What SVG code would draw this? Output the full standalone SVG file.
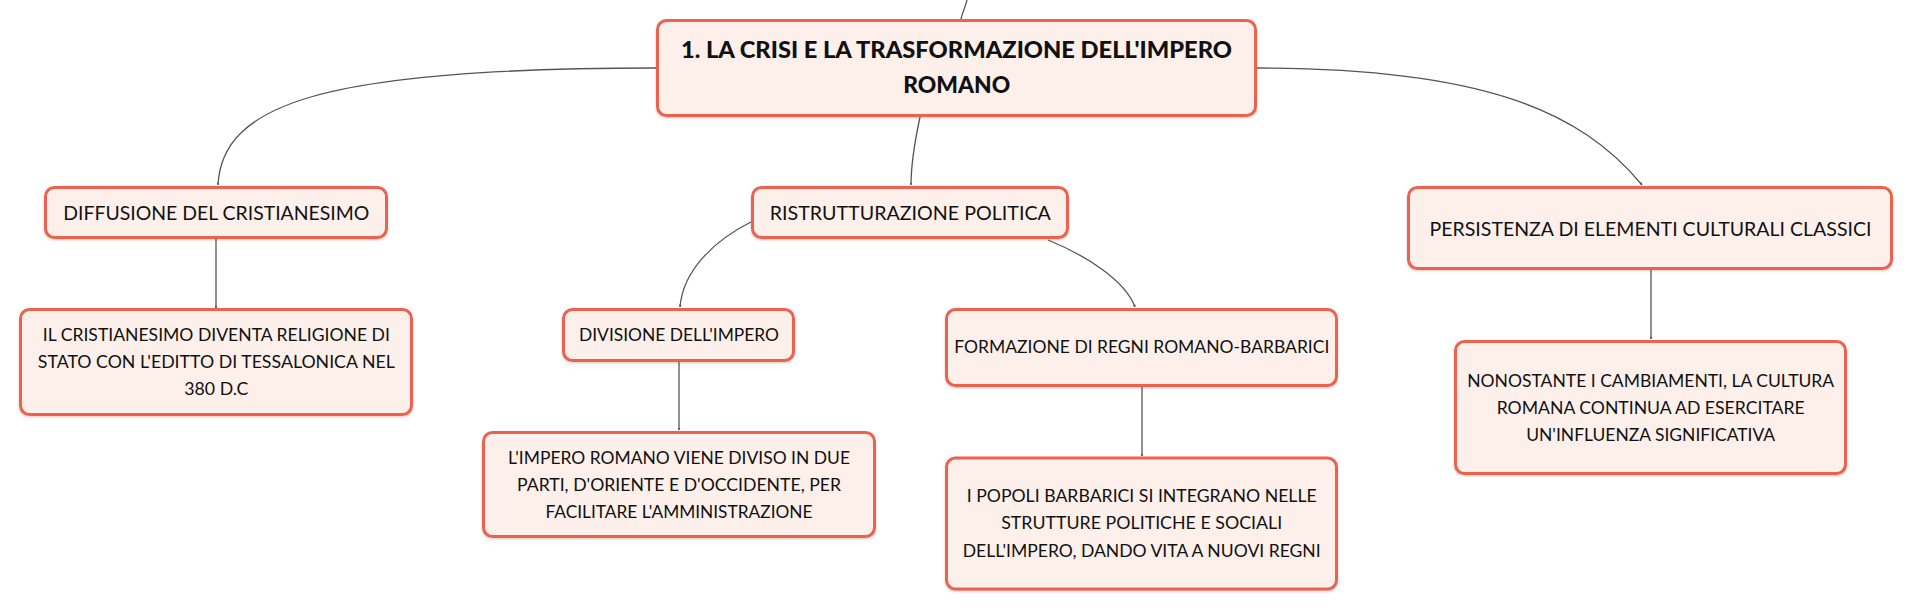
<svg xmlns="http://www.w3.org/2000/svg" width="1914" height="612" viewBox="0 0 1914 612">
<style>
.box{fill:#fdf0eb;stroke:#eb6450;stroke-width:3;filter:url(#sh)}
.t{font-family:Lato,"Liberation Sans",sans-serif;fill:#111;text-anchor:middle}
.t0{font-size:23px;font-weight:900}
.t1{font-size:19.5px}
.t2{font-size:17.5px}
.c{fill:none;stroke:#555;stroke-width:1.3;marker-end:url(#ar)}
</style>
<defs>
<filter id="sh" x="-5%" y="-10%" width="110%" height="130%">
<feDropShadow dx="0" dy="1.2" stdDeviation="0.8" flood-color="#a04838" flood-opacity="0.3"/>
</filter>
<marker id="ar" viewBox="0 0 6 6" refX="5" refY="3" markerWidth="3" markerHeight="3" orient="auto" markerUnits="userSpaceOnUse">
<path d="M0,0 L6,3 L0,6 z" fill="#555"/>
</marker>
</defs>
<rect width="1914" height="612" fill="#ffffff"/>
<g id="connectors">
<path class="c" d="M967,0 C965,8 962,14 961,19" style="marker-end:none"/>
<path class="c" d="M656,68 C320,68 222,105 218,185"/>
<path class="c" d="M1257,68 C1480,68 1580,110 1642,185"/>
<path class="c" d="M920,117 C914,145 911,165 911,185"/>
<path class="c" d="M216,239 L216,308"/>
<path class="c" d="M751,222 C715,240 683,270 680,307"/>
<path class="c" d="M1048,240 C1085,255 1125,280 1135,307"/>
<path class="c" d="M679,362 L679,430"/>
<path class="c" d="M1142,387 L1142,456"/>
<path class="c" d="M1651,270 L1651,339"/>
</g>
<g id="root">
<rect class="box" x="657.5" y="20.5" width="598" height="95" rx="9"/>
<text class="t t0" x="956.5" y="58.3" textLength="551" lengthAdjust="spacingAndGlyphs">1. LA CRISI E LA TRASFORMAZIONE DELL'IMPERO</text>
<text class="t t0" x="956.7" y="93.3" textLength="107" lengthAdjust="spacingAndGlyphs">ROMANO</text>
</g>
<g id="diffusione">
<rect class="box" x="45.5" y="187.5" width="341" height="50" rx="9"/>
<text class="t t1" x="216.3" y="220" textLength="306" lengthAdjust="spacingAndGlyphs">DIFFUSIONE DEL CRISTIANESIMO</text>
</g>
<g id="ristrutturazione">
<rect class="box" x="752.5" y="187.5" width="315" height="50" rx="9"/>
<text class="t t1" x="910.3" y="220" textLength="281" lengthAdjust="spacingAndGlyphs">RISTRUTTURAZIONE POLITICA</text>
</g>
<g id="persistenza">
<rect class="box" x="1408.5" y="187.5" width="483" height="81" rx="9"/>
<text class="t t1" x="1650.5" y="235.7" textLength="442" lengthAdjust="spacingAndGlyphs">PERSISTENZA DI ELEMENTI CULTURALI CLASSICI</text>
</g>
<g id="cristianesimo-stato">
<rect class="box" x="20.5" y="309.5" width="391" height="105" rx="9"/>
<text class="t t2" x="216.3" y="341" textLength="347" lengthAdjust="spacingAndGlyphs">IL CRISTIANESIMO DIVENTA RELIGIONE DI</text>
<text class="t t2" x="216.3" y="368.3" textLength="357" lengthAdjust="spacingAndGlyphs">STATO CON L'EDITTO DI TESSALONICA NEL</text>
<text class="t t2" x="216.3" y="395" textLength="64" lengthAdjust="spacingAndGlyphs">380 D.C</text>
</g>
<g id="divisione">
<rect class="box" x="563.5" y="309.5" width="230" height="51" rx="9"/>
<text class="t t2" x="679" y="341" textLength="200" lengthAdjust="spacingAndGlyphs">DIVISIONE DELL'IMPERO</text>
</g>
<g id="impero-diviso">
<rect class="box" x="483.5" y="432.5" width="391" height="104" rx="9"/>
<text class="t t2" x="679" y="464" textLength="342" lengthAdjust="spacingAndGlyphs">L'IMPERO ROMANO VIENE DIVISO IN DUE</text>
<text class="t t2" x="679" y="491" textLength="324" lengthAdjust="spacingAndGlyphs">PARTI, D'ORIENTE E D'OCCIDENTE, PER</text>
<text class="t t2" x="679" y="517.7" textLength="267" lengthAdjust="spacingAndGlyphs">FACILITARE L'AMMINISTRAZIONE</text>
</g>
<g id="formazione">
<rect class="box" x="946.5" y="309.5" width="390" height="76" rx="9"/>
<text class="t t2" x="1141.8" y="352.7" textLength="375" lengthAdjust="spacingAndGlyphs">FORMAZIONE DI REGNI ROMANO-BARBARICI</text>
</g>
<g id="popoli">
<rect class="box" x="946.5" y="458" width="390" height="131" rx="9"/>
<text class="t t2" x="1141.7" y="502.3" textLength="350" lengthAdjust="spacingAndGlyphs">I POPOLI BARBARICI SI INTEGRANO NELLE</text>
<text class="t t2" x="1141.7" y="529.3" textLength="281" lengthAdjust="spacingAndGlyphs">STRUTTURE POLITICHE E SOCIALI</text>
<text class="t t2" x="1141.7" y="556.7" textLength="358" lengthAdjust="spacingAndGlyphs">DELL'IMPERO, DANDO VITA A NUOVI REGNI</text>
</g>
<g id="nonostante">
<rect class="box" x="1455.5" y="341.5" width="390" height="132" rx="9"/>
<text class="t t2" x="1650.7" y="386.7" textLength="367" lengthAdjust="spacingAndGlyphs">NONOSTANTE I CAMBIAMENTI, LA CULTURA</text>
<text class="t t2" x="1650.7" y="414" textLength="308" lengthAdjust="spacingAndGlyphs">ROMANA CONTINUA AD ESERCITARE</text>
<text class="t t2" x="1650.7" y="441" textLength="249" lengthAdjust="spacingAndGlyphs">UN'INFLUENZA SIGNIFICATIVA</text>
</g>
</svg>
